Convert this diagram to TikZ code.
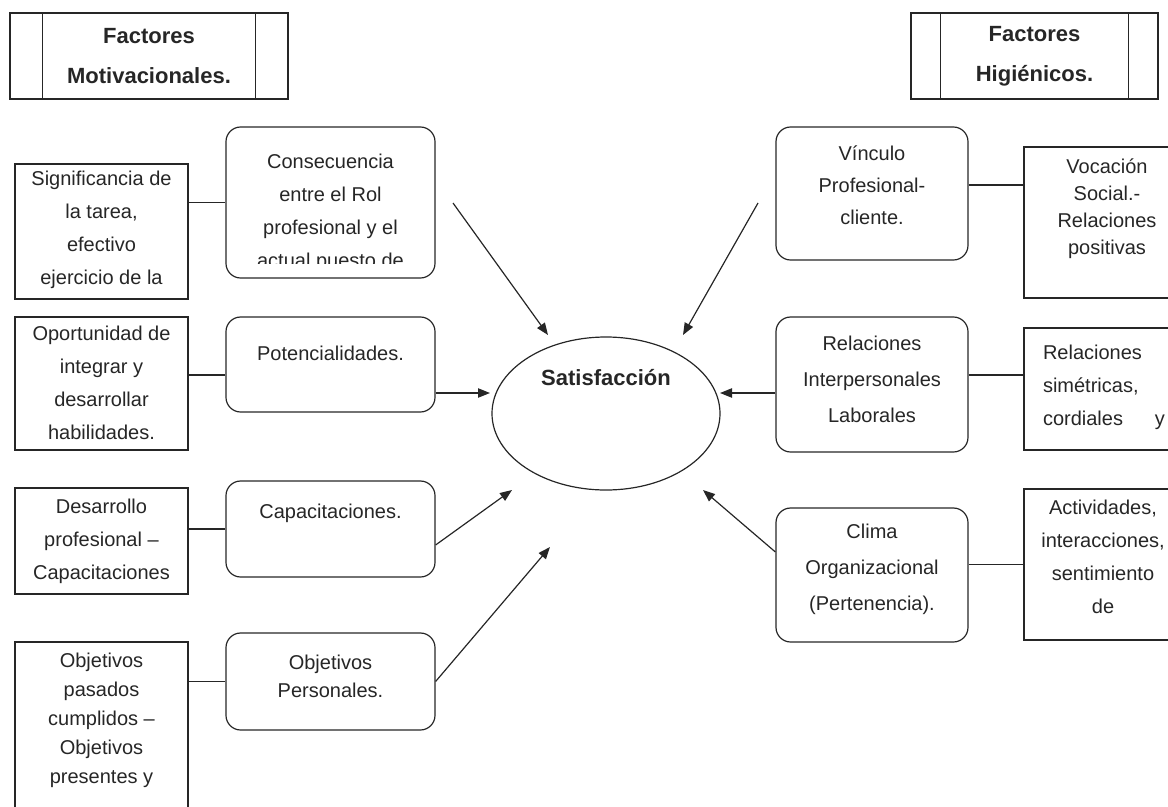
\documentclass[tikz,border=0pt]{standalone}
\usepackage{fontspec}
\setmainfont{Liberation Sans}
\usepackage{tikz}
\usetikzlibrary{arrows.meta,shapes.geometric}
\newcommand{\txtsize}[1]{\fontsize{15}{#1}\selectfont}

\begin{document}
\begin{tikzpicture}[x=0.75pt,y=-0.75pt,line width=0.9pt,color=black!85,
        titlebox/.style={draw,rectangle,align=center,minimum height=64.5pt,
            font=\bfseries\fontsize{16.5}{30}\selectfont},
        sqbox/.style={draw,rectangle,minimum width=129.75pt},
        rndbox/.style={draw,rectangle,rounded corners=11pt,minimum width=156.75pt},
        lbl/.style={align=center,inner sep=0pt,font=\txtsize{24.75pt}},
        arr/.style={-{Triangle[length=9pt,width=7pt]}}]
        \useasboundingbox (0,0) rectangle (1168,807);
        \clip (0,0) rectangle (1168,807);

        \node[titlebox,minimum width=208.5pt] (mot) at (149,56) {Factores\\Motivacionales.};
        \node[titlebox,minimum width=185.25pt] (hig) at (1034.5,56) {Factores\\Higiénicos.};
        \draw ([xshift=24.75pt]mot.north west) -- ([xshift=24.75pt]mot.south west);
        \draw ([xshift=-24.75pt]mot.north east) -- ([xshift=-24.75pt]mot.south east);
        \draw ([xshift=22.5pt]hig.north west) -- ([xshift=22.5pt]hig.south west);
        \draw ([xshift=-22.5pt]hig.north east) -- ([xshift=-22.5pt]hig.south east);

        \node[draw,ellipse,minimum width=171pt,minimum height=114.75pt] (sat) at (606,413.5) {};
        \node[font=\bfseries\fontsize{16.5}{20}\selectfont] (sattxt) at (606,378) {Satisfacción};

        \node[sqbox,minimum height=101.25pt] (sig) at (101.5,231.5) {};
        \node[lbl] (sigtxt) at (101.5,230) {Significancia de\\la tarea,\\efectivo\\ejercicio de la};
        \node[sqbox,minimum height=99.75pt] (opo) at (101.5,383.5) {};
        \node[lbl] (opotxt) at (101.5,383) {Oportunidad de\\integrar y\\desarrollar\\habilidades.};
        \node[sqbox,minimum height=79.5pt] (des) at (101.5,541) {};
        \node[lbl] (destxt) at (101.5,541) {Desarrollo\\profesional –\\Capacitaciones};
        \node[sqbox,minimum height=141pt] (obj) at (101.5,736) {};
        \node[lbl,font=\txtsize{21.75pt}] (objtxt) at (101.5,720) {Objetivos\\pasados\\cumplidos –\\Objetivos\\presentes y};

        \node[rndbox,minimum height=113.25pt] (con) at (330.5,202.5) {};
        \begin{scope}
            \clip (con.north west) rectangle ([yshift=11pt]con.south east);
            \node[lbl] (contxt) at (330.5,213) {Consecuencia\\entre el Rol\\profesional y el\\actual puesto de};
        \end{scope}
        \node[rndbox,minimum height=71.25pt] (pot) at (330.5,364.5) {};
        \node[lbl] (pottxt) at (330.5,353) {Potencialidades.};
        \node[rndbox,minimum height=72pt] (cap) at (330.5,529) {};
        \node[lbl] (captxt) at (330.5,513) {Capacitaciones.};
        \node[rndbox,minimum height=72.75pt] (obp) at (330.5,681.5) {};
        \node[lbl,font=\txtsize{21pt}] (obptxt) at (330.5,676) {Objetivos\\Personales.};

        \node[rndbox,minimum width=144pt,minimum height=99.75pt] (vin) at (872,193.5) {};
        \node[lbl,font=\txtsize{24pt}] (vintxt) at (872,185) {Vínculo\\Profesional-\\cliente.};
        \node[rndbox,minimum width=144pt,minimum height=101.25pt] (rel) at (872,384.5) {};
        \node[lbl,font=\txtsize{27pt}] (reltxt) at (872,379) {Relaciones\\Interpersonales\\Laborales};
        \node[rndbox,minimum width=144pt,minimum height=100.5pt] (cli) at (872,575) {};
        \node[lbl,font=\txtsize{27pt}] (clitxt) at (872,569) {Clima\\Organizacional\\(Pertenencia).};

        \node[sqbox,minimum width=121.5pt,minimum height=113.25pt] (voc) at (1105,222.5) {};
        \node[lbl,font=\txtsize{20.25pt}] (voctxt) at (1107,208.5) {Vocación\\Social.-\\Relaciones\\positivas};
        \node[sqbox,minimum width=121.5pt,minimum height=91.5pt] (rsi) at (1105,389) {};
        \node[lbl,align=left,text width=91.5pt] (rsitxt) at (1104,387.5) {Relaciones\\simétricas,\\cordiales\hfill y};
        \node[sqbox,minimum width=121.5pt,minimum height=113.25pt] (act) at (1105,564.5) {};
        \node[lbl] (acttxt) at (1103,557) {Actividades,\\interacciones,\\sentimiento\\de};

        \draw (con.west -| sig.east) -- (con.west);
        \draw ([yshift=-7.875pt]pot.west -| opo.east) -- ([yshift=-7.875pt]pot.west);
        \draw (cap.west -| des.east) -- (cap.west);
        \draw (obp.west -| obj.east) -- (obp.west);
        \draw ([yshift=6.375pt]vin.east) -- ([yshift=6.375pt]vin.east -| voc.west);
        \draw ([yshift=7.125pt]rel.east) -- ([yshift=7.125pt]rel.east -| rsi.west);
        \draw (act.west -| cli.east) -- (act.west);

        \coordinate (s1) at (453,203);
        \coordinate (s2) at (758,203);
        \coordinate (t1) at (548,335);
        \coordinate (t2) at (683,335);
        \coordinate (t3) at (490,393);
        \coordinate (t4) at (720,393);
        \coordinate (t5) at (512,490);
        \coordinate (t6) at (703,490);
        \coordinate (t7) at (550,547);
        \draw[arr] (s1) -- (t1);
        \draw[arr] (s2) -- (t2);
        \draw[arr] ([yshift=-21.375pt]pot.east) -- (t3);
        \draw[arr] ([yshift=-6.375pt]rel.west) -- (t4);
        \draw[arr] ([yshift=-12pt]cap.east) -- (t5);
        \draw[arr] ([yshift=17.25pt]cli.west) -- (t6);
        \draw[arr] (obp.east) -- (t7);
    \end{tikzpicture}
\end{document}
